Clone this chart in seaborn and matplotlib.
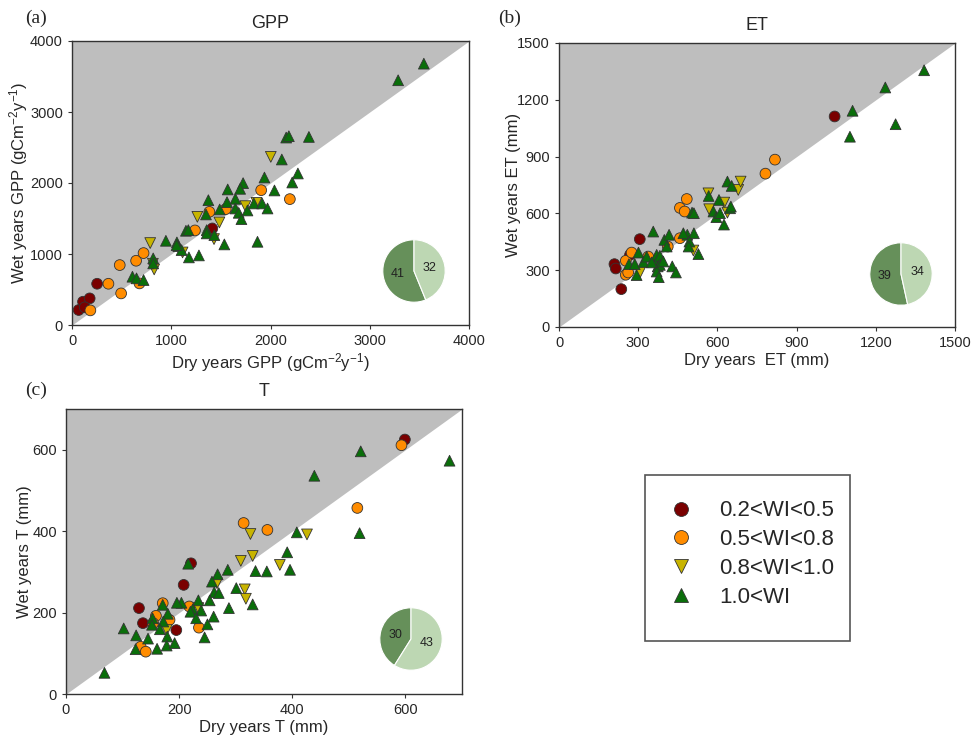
import matplotlib
matplotlib.use("Agg")
import matplotlib.pyplot as plt
from matplotlib.lines import Line2D
from matplotlib.patches import Rectangle
import seaborn as sns
import pandas as pd

OUT_PNG = "out.png"

GROUPS = ["0.2<WI<0.5", "0.5<WI<0.8", "0.8<WI<1.0", "1.0<WI"]
COLORS = ["#7a0000", "#ff8c00", "#c8b400", "#0a6e0a"]
MARKERS = ["o", "o", "v", "^"]
PIE_COLORS = ["#66905a", "#bdd7b3"]

# GPP (dry, wet) pairs per WI class
gpp_wi1 = [(67, 211), (111, 328), (178, 375), (253, 581), (128, 249), (1414, 1360)]
gpp_wi2 = [(185, 206), (367, 581), (495, 445), (481, 844), (646, 905), (721, 1013),
           (680, 586), (1239, 1332), (1384, 1594), (1549, 1632), (1906, 1899), (2195, 1773)]
gpp_wi3 = [(788, 1154), (828, 783), (815, 863), (1263, 1524), (1114, 1022),
           (1431, 1210), (1485, 1444), (1747, 1674), (1859, 1721), (2003, 2368)]
gpp_wi4 = [(3286, 3447), (3545, 3681), (2158, 2640), (2185, 2659), (2387, 2649),
           (2114, 2331), (2276, 2134), (2219, 2007), (2040, 1895), (1939, 2077),
           (1724, 1998), (1694, 1918), (1569, 1909), (1646, 1777), (1562, 1730),
           (1374, 1758), (1488, 1627), (1646, 1641), (1680, 1580), (1768, 1613),
           (1707, 1491), (1832, 1712), (1916, 1712), (1970, 1641), (1350, 1557),
           (1357, 1336), (1357, 1290), (1148, 1327), (1172, 1336), (1434, 1266),
           (1535, 1135), (1869, 1172), (946, 1186), (1057, 1163), (1071, 1111),
           (1104, 1055), (1178, 952), (1279, 980), (818, 938), (818, 868),
           (609, 680), (650, 657), (721, 633), (1054, 1125)]

# ET
et_wi1 = [(210, 332), (215, 309), (236, 200), (306, 464), (1044, 1112), (269, 381)]
et_wi2 = [(253, 276), (262, 288), (253, 350), (275, 393), (458, 629), (476, 610),
          (484, 676), (458, 469), (412, 425), (338, 372), (782, 810), (818, 884)]
et_wi3 = [(307, 288), (566, 706), (569, 622), (626, 657), (638, 604), (679, 724),
          (688, 768), (509, 404)]
et_wi4 = [(1383, 1356), (1236, 1265), (1112, 1142), (1102, 1005), (1275, 1071),
          (638, 768), (654, 745), (567, 692), (606, 671), (648, 627), (651, 636),
          (585, 610), (596, 580), (625, 541), (504, 604), (511, 601), (357, 504),
          (399, 460), (417, 487), (408, 425), (486, 487), (511, 495), (494, 451),
          (491, 425), (301, 393), (265, 332), (287, 332), (294, 274), (320, 344),
          (332, 372), (364, 355), (370, 381), (382, 376), (374, 320), (382, 328),
          (370, 293), (378, 263), (429, 320), (443, 288), (528, 385), (351, 341),
          (395, 346), (471, 495), (610, 601)]

# T
t_wi1 = [(599, 625), (221, 321), (208, 268), (129, 211), (136, 174), (195, 157)]
t_wi2 = [(593, 611), (515, 457), (314, 420), (356, 403), (171, 223), (159, 192),
         (183, 182), (218, 215), (235, 163), (132, 116), (141, 104), (154, 174)]
t_wi3 = [(326, 393), (426, 392), (309, 327), (330, 339), (378, 317), (316, 257),
         (318, 234), (267, 272), (234, 211), (178, 157)]
t_wi4 = [(678, 573), (521, 596), (439, 536), (519, 395), (408, 397), (391, 348),
         (396, 305), (355, 301), (335, 302), (286, 305), (268, 294), (258, 276),
         (262, 250), (270, 248), (301, 260), (330, 220), (288, 211), (254, 230),
         (234, 230), (239, 205), (224, 208), (220, 202), (204, 224), (196, 224),
         (216, 320), (230, 186), (261, 190), (250, 171), (245, 139), (171, 219),
         (180, 197), (172, 178), (153, 186), (152, 170), (166, 159), (179, 141),
         (145, 136), (124, 144), (102, 161), (123, 110), (161, 111), (178, 119),
         (192, 125), (68, 52)]

gpp_pie = [41, 32]
et_pie = [39, 34]
t_pie = [30, 43]


def to_frame(*classes):
    rows = []
    for grp, pts in zip(GROUPS, classes):
        for dry, wet in pts:
            rows.append({"dry": dry, "wet": wet, "group": grp})
    return pd.DataFrame(rows)


sns.set_theme(style="ticks")
plt.rcParams["font.family"] = ["Liberation Sans", "DejaVu Sans"]
plt.rcParams["mathtext.fontset"] = "custom"
plt.rcParams["mathtext.rm"] = "Liberation Sans"
plt.rcParams["mathtext.it"] = "Liberation Sans:italic"

W, H = 971, 740
fig = plt.figure(figsize=(W / 100, H / 100), dpi=100)


def px_axes(left, top, right, bottom):
    return fig.add_axes([left / W, 1 - bottom / H, (right - left) / W, (bottom - top) / H])


def panel(ax, df, lim, ticks_x, ticks_y, title, xlabel, ylabel, ypad=0):
    ax.fill_between([0, lim], [0, lim], [lim, lim], color="#bebebe", lw=0, zorder=0)
    sns.scatterplot(data=df, x="dry", y="wet", hue="group", style="group",
                    hue_order=GROUPS, style_order=GROUPS,
                    palette=dict(zip(GROUPS, COLORS)), markers=dict(zip(GROUPS, MARKERS)),
                    s=60, edgecolor="#333333", linewidth=0.6, legend=False, ax=ax, zorder=3)
    ax.set_xlim(0, lim)
    ax.set_ylim(0, lim)
    ax.set_xticks(ticks_x)
    ax.set_yticks(ticks_y)
    ax.set_title(title, fontsize=13, pad=9)
    ax.set_xlabel(xlabel, fontsize=12, labelpad=2)
    ax.set_ylabel(ylabel, fontsize=12, labelpad=ypad)
    ax.tick_params(labelsize=10.5, length=3, width=0.8, color="#333333")
    for sp in ax.spines.values():
        sp.set_color("#333333")
        sp.set_linewidth(1.0)


def pie(cx, cy, counts, r=39):
    pa = fig.add_axes([(cx - r) / W, 1 - (cy + r) / H, 2 * r / W, 2 * r / H])
    pa.pie(counts, colors=PIE_COLORS, startangle=90, counterclock=True,
           labels=[str(c) for c in counts], labeldistance=0.52,
           textprops={"fontsize": 9, "color": "#222222", "ha": "center", "va": "center"},
           wedgeprops={"edgecolor": "white", "linewidth": 0.8})
    pa.set_aspect("equal")


ax_a = px_axes(72, 41, 469, 325)
panel(ax_a, to_frame(gpp_wi1, gpp_wi2, gpp_wi3, gpp_wi4), 4000,
      range(0, 4001, 1000), range(0, 4001, 1000), "GPP",
      "Dry years GPP (gCm$^{-2}$y$^{-1}$)", "Wet years GPP (gCm$^{-2}$y$^{-1}$)", ypad=0)

ax_b = px_axes(559, 43, 955, 327)
panel(ax_b, to_frame(et_wi1, et_wi2, et_wi3, et_wi4), 1500,
      range(0, 1501, 300), range(0, 1501, 300), "ET",
      "Dry years  ET (mm)", "Wet years ET (mm)", ypad=-3)

ax_c = px_axes(66, 409, 462, 694)
panel(ax_c, to_frame(t_wi1, t_wi2, t_wi3, t_wi4), 700,
      range(0, 601, 200), range(0, 601, 200), "T",
      "Dry years T (mm)", "Wet years T (mm)", ypad=0)

pie(414, 271, gpp_pie)
pie(901, 274, et_pie)
pie(411, 639, t_pie)

for lbl, x, y in [("(a)", 36, 18), ("(b)", 510, 18), ("(c)", 36, 390)]:
    fig.text(x / W, 1 - y / H, lbl, fontsize=14, family="Liberation Serif",
             ha="center", va="center")

# legend: box drawn separately, entries placed inside
fig.patches.append(Rectangle((645 / W, 1 - 641 / H), 205 / W, 166 / H,
                             transform=fig.transFigure, fill=False,
                             edgecolor="#555555", linewidth=1.2))
handles = [Line2D([], [], linestyle="none", marker=m, markersize=10, markerfacecolor=c,
                  markeredgecolor="#333333", markeredgewidth=0.6)
           for m, c in zip(MARKERS, COLORS)]
fig.legend(handles, GROUPS, loc="center left", bbox_to_anchor=(664.5 / W, 1 - 554 / H),
           frameon=False, fontsize=16, handlelength=1.5, handletextpad=0.97,
           labelspacing=0.35, borderpad=0, borderaxespad=0)

fig.savefig(OUT_PNG, dpi=100)
